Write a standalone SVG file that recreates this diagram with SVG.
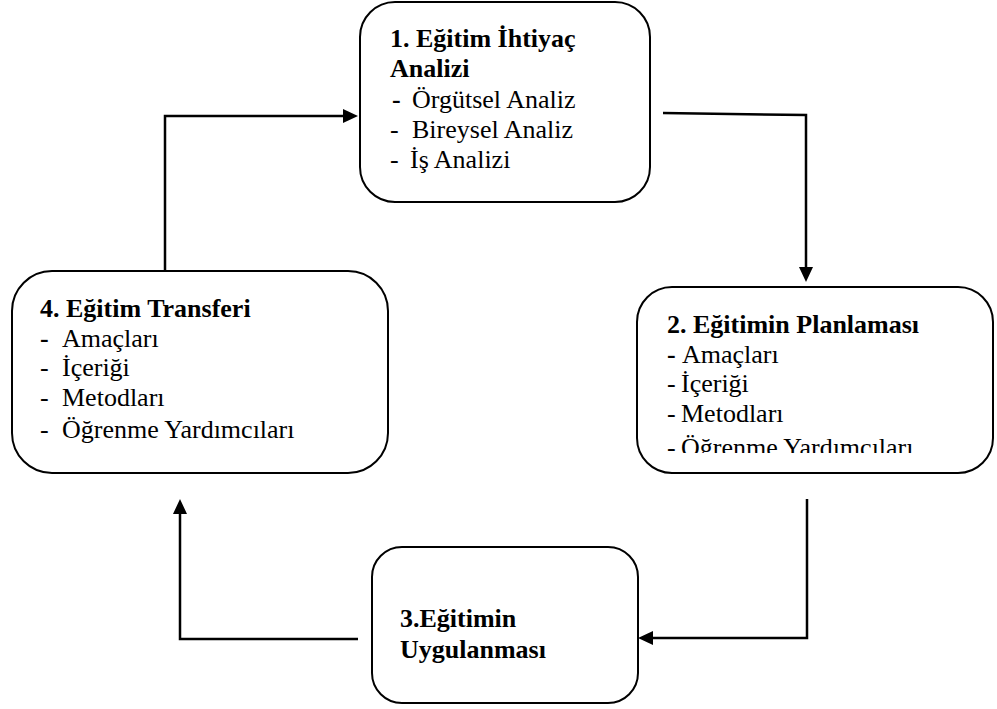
<svg xmlns="http://www.w3.org/2000/svg" width="997" height="709" viewBox="0 0 997 709">
  <style>
    .box { fill: #ffffff; stroke: #000000; stroke-width: 2; }
    .t { font-family: "Liberation Serif", "Times New Roman", serif; font-size: 26px; fill: #000000; }
    .b { font-weight: bold; }
    .conn { fill: none; stroke: #000000; stroke-width: 2.5; }
  </style>
  <defs>
    <marker id="arrow" markerUnits="userSpaceOnUse" markerWidth="16" markerHeight="16" refX="7" refY="7" orient="auto">
      <path d="M0,0 L15,7 L0,14 z" fill="#000000"/>
    </marker>
    <clipPath id="clip2">
      <rect x="637" y="287" width="356" height="166"/>
    </clipPath>
  </defs>
  <rect width="997" height="709" fill="#ffffff"/>

  <g id="connectors">
    <path class="conn" d="M165,271 L165,116 L350,116" marker-end="url(#arrow)"/>
    <path class="conn" d="M663,113 L806,115 L806,274" marker-end="url(#arrow)"/>
    <path class="conn" d="M807,499 L807,638 L646,638" marker-end="url(#arrow)"/>
    <path class="conn" d="M358,639 L180,639 L180,507" marker-end="url(#arrow)"/>
  </g>

  <g id="node1">
    <rect class="box" x="360" y="2" width="290" height="200" rx="35" ry="35"/>
    <text class="t b" x="390" y="47">1. Eğitim İhtiyaç</text>
    <text class="t b" x="390" y="77">Analizi</text>
    <text class="t"><tspan class="b" x="392" y="108">-</tspan><tspan x="412" y="108">Örgütsel Analiz</tspan></text>
    <text class="t"><tspan x="390" y="138">-</tspan><tspan x="412" y="138">Bireysel Analiz</tspan></text>
    <text class="t"><tspan x="390" y="168">-</tspan><tspan x="410" y="168">İş Analizi</tspan></text>
  </g>

  <g id="node2">
    <rect class="box" x="637" y="287" width="356" height="186" rx="35" ry="35"/>
    <g clip-path="url(#clip2)">
      <text class="t b" x="667" y="333">2. Eğitimin Planlaması</text>
      <text class="t"><tspan class="b" x="667" y="363">-</tspan><tspan x="682" y="363">Amaçları</tspan></text>
      <text class="t"><tspan x="667" y="392">-</tspan><tspan x="681" y="392">İçeriği</tspan></text>
      <text class="t"><tspan x="667" y="422">-</tspan><tspan x="681" y="422">Metodları</tspan></text>
      <text class="t"><tspan x="667" y="456">-</tspan><tspan x="681" y="456">Öğrenme Yardımcıları</tspan></text>
    </g>
  </g>

  <g id="node3">
    <rect class="box" x="372" y="547" width="266" height="156" rx="30" ry="30"/>
    <text class="t b" x="400" y="627">3.Eğitimin</text>
    <text class="t b" x="400" y="658">Uygulanması</text>
  </g>

  <g id="node4">
    <rect class="box" x="12" y="271" width="376" height="202" rx="40" ry="40"/>
    <text class="t b" x="40" y="317">4. Eğitim Transferi</text>
    <text class="t"><tspan class="b" x="40" y="347">-</tspan><tspan x="62" y="347">Amaçları</tspan></text>
    <text class="t"><tspan x="40" y="376">-</tspan><tspan x="62" y="376">İçeriği</tspan></text>
    <text class="t"><tspan x="40" y="406">-</tspan><tspan x="62" y="406">Metodları</tspan></text>
    <text class="t"><tspan x="40" y="438">-</tspan><tspan x="62" y="438">Öğrenme Yardımcıları</tspan></text>
  </g>
</svg>
